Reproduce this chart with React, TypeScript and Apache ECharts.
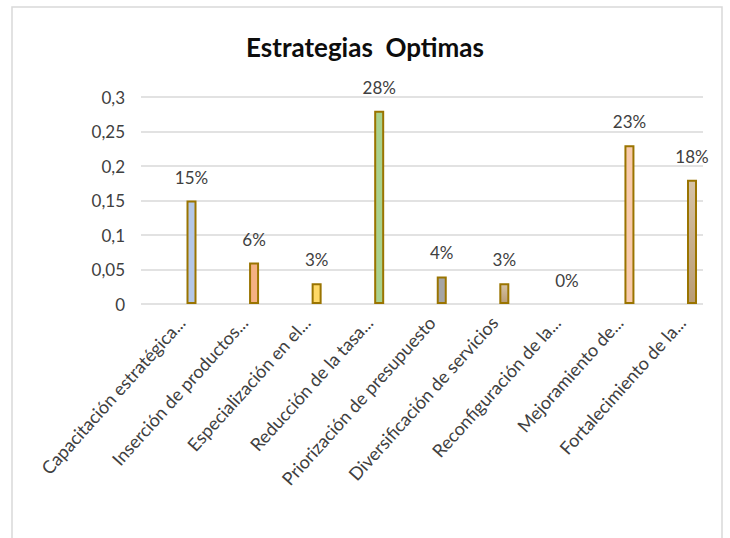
import React, { useEffect, useRef } from "react";
import * as echarts from "echarts";

const categories = [
  "Capacitación estratégica...",
  "Inserción de productos...",
  "Especialización en el...",
  "Reducción de la tasa...",
  "Priorización de presupuesto",
  "Diversificación de servicios",
  "Reconfiguración de la...",
  "Mejoramiento de...",
  "Fortalecimiento de la...",
];
const values = [0.15, 0.06, 0.03, 0.28, 0.04, 0.03, 0, 0.23, 0.18];
const barColors: (string | [string, string])[] = [
  "#B4C7E7",
  "#F4B183",
  "#FFD966",
  "#A9D18E",
  "#A5A5A5",
  ["#D6C3A6", "#B99C74"],
  "#C9C9C9",
  "#F8CBAD",
  ["#D6C3A6", "#B99C74"],
];
const yTicks = { min: 0, max: 0.3, interval: 0.05 };
const title = "Estrategias  Optimas";

const FONT = "Lato";

export default function App() {
  const ref = useRef<HTMLDivElement>(null);
  useEffect(() => {
    if (!ref.current) return;
    const chart = echarts.init(ref.current, null, { renderer: "svg" });
    const data = values.map((v, i) => {
      const c = barColors[i];
      const color =
        typeof c === "string"
          ? c
          : new echarts.graphic.LinearGradient(0, 0, 0, 1, [
              { offset: 0, color: c[0] },
              { offset: 1, color: c[1] },
            ]);
      return {
        value: v,
        itemStyle: {
          color,
          borderColor: "#9A7400",
          borderWidth: v === 0 ? 0 : 2,
        },
      };
    });
    chart.setOption({
      animation: false,
      backgroundColor: "#FFFFFF",
      textStyle: { fontFamily: FONT },
      title: {
        text: title,
        left: "center",
        top: 29,
        textStyle: {
          fontFamily: FONT,
          fontSize: 26,
          fontWeight: "bold",
          color: "#0D0D0D",
        },
      },
      graphic: [
        {
          type: "rect",
          shape: { x: 12, y: 7, width: 710, height: 600 },
          style: { fill: "none", stroke: "#D9D9D9", lineWidth: 1.5 },
          silent: true,
          z: -1,
        },
      ],
      grid: [
        { left: 141, right: 27, top: 97, bottom: 234 },
        { left: 191.5, right: 38, top: 97, bottom: 234 },
      ],
      xAxis: [
        { type: "category", gridIndex: 0, data: categories, show: false },
        {
          type: "category",
          gridIndex: 1,
          data: categories,
          boundaryGap: false,
          axisLine: { show: false },
          axisTick: { show: false },
          axisLabel: {
            rotate: 48,
            interval: 0,
            margin: 4,
            padding: [0, 15, 0, 0],
            fontFamily: FONT,
            fontSize: 18,
            color: "#404040",
          },
        },
      ],
      yAxis: [
        {
          type: "value",
          gridIndex: 0,
          min: yTicks.min,
          max: yTicks.max,
          interval: yTicks.interval,
          axisLine: { show: false },
          axisTick: { show: false },
          splitLine: { lineStyle: { color: "#D9D9D9", width: 1.5 } },
          axisLabel: {
            margin: 16,
            fontFamily: FONT,
            fontSize: 17,
            color: "#404040",
            formatter: (v: number) => String(+v.toFixed(2)).replace(".", ","),
          },
        },
        {
          type: "value",
          gridIndex: 1,
          min: yTicks.min,
          max: yTicks.max,
          interval: yTicks.interval,
          show: false,
          splitLine: { show: false },
        },
      ],
      series: [
        {
          type: "bar",
          xAxisIndex: 1,
          yAxisIndex: 1,
          barWidth: 10,
          data,
          label: {
            show: true,
            position: "top",
            distance: 15,
            fontFamily: FONT,
            fontSize: 17,
            color: "#404040",
            formatter: (p: any) => Math.round(p.value * 100) + "%",
          },
        },
      ],
    });
    return () => chart.dispose();
  }, []);
  return (
    <div
      ref={ref}
      style={{ position: "fixed", left: 0, top: 0, width: 730, height: 538 }}
    />
  );
}
